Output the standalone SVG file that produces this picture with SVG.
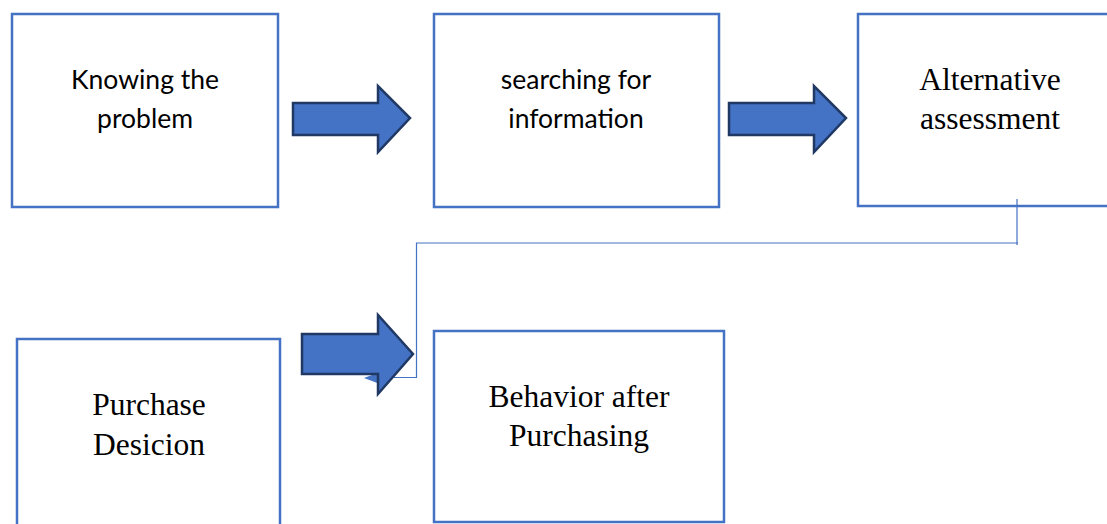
<svg xmlns="http://www.w3.org/2000/svg" width="1107" height="524" viewBox="0 0 1107 524">
  <style>
    .box { fill: #ffffff; stroke: #4472C4; stroke-width: 2.5; }
    .sans { font-family: "Lato", "Liberation Sans", sans-serif; font-size: 26.5px; fill: #000000; text-anchor: middle; }
    .serif { font-family: "Liberation Serif", "Times New Roman", serif; font-size: 31.5px; fill: #000000; text-anchor: middle; }
    .block-arrow { fill: #4472C4; stroke: #1F3864; stroke-width: 2.5; stroke-linejoin: miter; }
    .link { fill: none; stroke: #4472C4; stroke-width: 1.2; }
  </style>
  <defs>
    <!-- wide block arrow, drawn from the shaft's left end at the origin -->
    <path id="blockArrow" d="M0,0 H85 V-17 L117,15 L85,49 V32 H0 Z"/>
  </defs>

  <rect width="1107" height="524" fill="#ffffff"/>

  <g id="node-knowing">
    <rect class="box" x="12" y="14" width="266" height="193"/>
    <text class="sans" x="145" y="89">Knowing the</text>
    <text class="sans" x="145" y="128">problem</text>
  </g>

  <g id="node-searching">
    <rect class="box" x="434" y="14" width="285" height="193"/>
    <text class="sans" x="576" y="89">searching for</text>
    <text class="sans" x="576" y="128">information</text>
  </g>

  <g id="node-alternative">
    <rect class="box" x="858" y="14" width="264" height="192"/>
    <text class="serif" x="990" y="90">Alternative</text>
    <text class="serif" x="990" y="129">assessment</text>
  </g>

  <g id="node-purchase">
    <rect class="box" x="17" y="339" width="263" height="200"/>
    <text class="serif" x="149" y="415">Purchase</text>
    <text class="serif" x="149" y="455">Desicion</text>
  </g>

  <g id="node-behavior">
    <rect class="box" x="434" y="331" width="290" height="191"/>
    <text class="serif" x="579" y="407">Behavior after</text>
    <text class="serif" x="579" y="446">Purchasing</text>
  </g>

  <g id="connectors">
    <!-- elbow line from the assessment box back down to the purchase step -->
    <path class="link" d="M1017,199 V245 M1018,243 H416.5 V377.5 H380"/>
    <path d="M380,372 L364,378 L380,384 Z" fill="#4472C4"/>
    <use href="#blockArrow" class="block-arrow" x="293" y="103"/>
    <use href="#blockArrow" class="block-arrow" x="729" y="103"/>
    <path class="block-arrow" d="M302,334 H378 V315 L413,354 L378,394 V374 H302 Z"/>
  </g>
</svg>
